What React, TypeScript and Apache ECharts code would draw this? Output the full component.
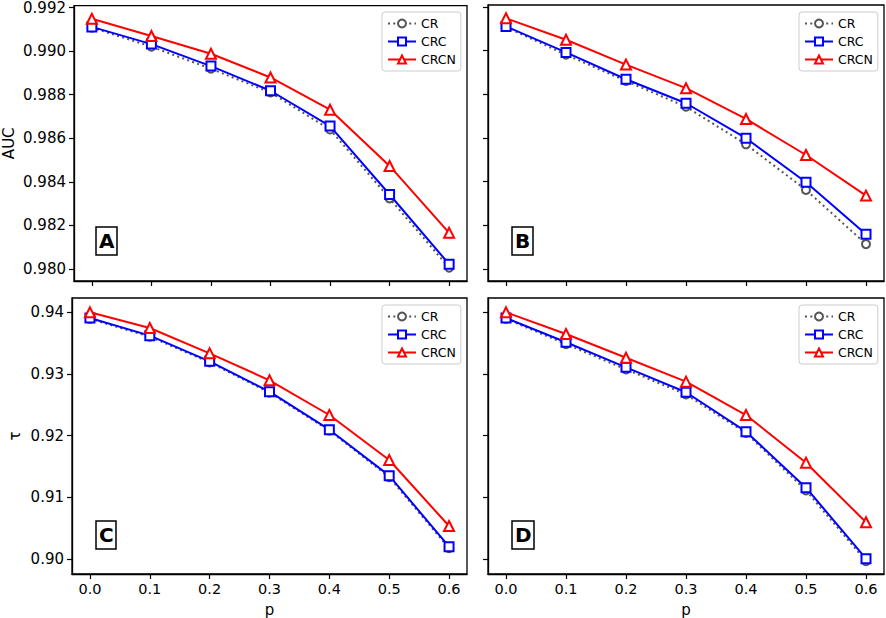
import React, { useEffect, useRef } from "react";
import * as echarts from "echarts";

const pValues = [0, 0.1, 0.2, 0.3, 0.4, 0.5, 0.6];
const aucTicks = [0.98, 0.982, 0.984, 0.986, 0.988, 0.99, 0.992];
const tauTicks = [0.9, 0.91, 0.92, 0.93, 0.94];
const seriesNames = ["CR", "CRC", "CRCN"];
const panelLetters = ["A", "B", "C", "D"];

const A_CR = [0.99108, 0.9902, 0.98919, 0.9881, 0.9864, 0.98324, 0.98006];
const A_CRC = [0.99111, 0.99032, 0.98931, 0.98818, 0.98656, 0.98342, 0.98022];
const A_CRCN = [0.99148, 0.99069, 0.98988, 0.98879, 0.98731, 0.98473, 0.98166];

const B_CR = [0.99108, 0.98981, 0.98861, 0.98743, 0.98571, 0.98362, 0.98114];
const B_CRC = [0.99111, 0.98992, 0.98869, 0.98759, 0.98599, 0.98397, 0.98159];
const B_CRCN = [0.99148, 0.9905, 0.98936, 0.98828, 0.98687, 0.98522, 0.98336];

const C_CR = [0.9389, 0.936, 0.93185, 0.92695, 0.9208, 0.91325, 0.90175];
const C_CRC = [0.93903, 0.93617, 0.93201, 0.9271, 0.92094, 0.9135, 0.902];
const C_CRCN = [0.93995, 0.93741, 0.93331, 0.92894, 0.92332, 0.91603, 0.90534];

const D_CR = [0.9389, 0.9348, 0.9307, 0.92665, 0.9204, 0.9111, 0.89965];
const D_CRC = [0.93903, 0.9351, 0.93104, 0.927, 0.92062, 0.91155, 0.90005];
const D_CRCN = [0.93995, 0.93644, 0.9326, 0.92872, 0.92332, 0.9156, 0.90594];

const panels = [
  [A_CR, A_CRC, A_CRCN],
  [B_CR, B_CRC, B_CRCN],
  [C_CR, C_CRC, C_CRCN],
  [D_CR, D_CRC, D_CRCN],
];

const FONT = "DejaVu Sans";

export default function App() {
  const ref = useRef<HTMLDivElement>(null);
  useEffect(() => {
    if (!ref.current) return;
    const chart = echarts.init(ref.current, null, { renderer: "svg" });

    const grids = [
      { left: 72, top: 5, width: 395, height: 276 },
      { left: 488, top: 5, width: 396, height: 276 },
      { left: 72, top: 298, width: 395, height: 276 },
      { left: 488, top: 298, width: 396, height: 276 },
    ].map((g) => ({ ...g, show: true, borderColor: "#000", borderWidth: 1.3, backgroundColor: "#fff" }));

    const xAxes = [0, 1, 2, 3].map((i) => ({
      type: "value",
      gridIndex: i,
      position: "bottom",
      min: -0.03,
      max: 0.63,
      splitLine: { show: false },
      axisLine: { show: true, onZero: false, lineStyle: { color: "#000", width: 1.3 } },
      axisTick: {
        show: true,
        inside: false,
        length: 5,
        customValues: pValues,
        lineStyle: { color: "#000", width: 1.2 },
      },
      axisLabel: {
        show: i >= 2,
        inside: false,
        customValues: pValues,
        formatter: (v: number) => v.toFixed(1),
        fontFamily: FONT,
        fontSize: 14.5,
        color: "#000",
        margin: 7,
      },
      name: i >= 2 ? "p" : "",
      nameLocation: "middle",
      nameGap: 28,
      nameTextStyle: { fontFamily: FONT, fontSize: 15, color: "#000" },
    }));

    const yAxes = [0, 1, 2, 3].map((i) => {
      const isAuc = i < 2;
      const ticks = isAuc ? aucTicks : tauTicks;
      return {
        type: "value",
        gridIndex: i,
        position: "left",
        min: isAuc ? 0.97945 : 0.89757,
        max: isAuc ? 0.99209 : 0.94227,
        splitLine: { show: false },
        axisLine: { show: true, onZero: false, lineStyle: { color: "#000", width: 1.3 } },
        axisTick: {
          show: true,
          inside: false,
          length: 5,
          customValues: ticks,
          lineStyle: { color: "#000", width: 1.2 },
        },
        axisLabel: {
          show: i % 2 === 0,
          inside: false,
          customValues: ticks,
          formatter: (v: number) => v.toFixed(isAuc ? 3 : 2),
          fontFamily: FONT,
          fontSize: 15,
          color: "#000",
          margin: 8,
        },
        name: i === 0 ? "AUC" : i === 2 ? "τ" : "",
        nameLocation: "middle",
        nameGap: i === 0 ? 58 : 50,
        nameTextStyle: { fontFamily: FONT, fontSize: 15, color: "#000" },
      };
    });

    const styles = [
      { color: "#555", symbol: "emptyCircle", lineType: [2, 3.3] as any, size: 8 },
      { color: "#0000ff", symbol: "emptyRect", lineType: "solid", size: 9 },
      { color: "#ff0000", symbol: "emptyTriangle", lineType: "solid", size: 10 },
    ];

    const series: any[] = [];
    panels.forEach((panel, pi) => {
      panel.forEach((vals, si) => {
        const st = styles[si];
        series.push({
          type: "line",
          name: seriesNames[si],
          xAxisIndex: pi,
          yAxisIndex: pi,
          data: pValues.map((p, k) => [p, vals[k]]),
          symbol: st.symbol,
          symbolSize: st.size,
          showAllSymbol: true,
          lineStyle: { color: st.color, width: 2, type: st.lineType },
          itemStyle: { color: st.color, borderWidth: 1.6 },
          z: 2 + si,
        });
      });
    });

    const legendPos = [
      { left: 382, top: 12 },
      { left: 799, top: 12 },
      { left: 382, top: 305 },
      { left: 799, top: 305 },
    ];
    const legends = legendPos.map((pos) => ({
      ...pos,
      orient: "vertical",
      data: seriesNames,
      backgroundColor: "#fff",
      borderColor: "#ccc",
      borderWidth: 1,
      borderRadius: 3,
      padding: [4, 5, 4, 5],
      itemGap: 3,
      itemWidth: 28,
      itemHeight: 10,
      textStyle: { fontFamily: FONT, fontSize: 12.5, color: "#000", lineHeight: 15 },
    }));

    const letterPos = [
      { left: 96, top: 227 },
      { left: 512, top: 227 },
      { left: 96, top: 521 },
      { left: 512, top: 521 },
    ];
    const titles = letterPos.map((pos, i) => ({
      ...pos,
      text: panelLetters[i],
      borderColor: "#000",
      borderWidth: 1.5,
      backgroundColor: "#fff",
      padding: [3, 3, 3, 3],
      textStyle: { fontFamily: FONT, fontSize: 20, fontWeight: "bold", color: "#000", lineHeight: 22 },
    }));

    chart.setOption({
      animation: false,
      backgroundColor: "#fff",
      title: titles,
      legend: legends,
      grid: grids,
      xAxis: xAxes,
      yAxis: yAxes,
      series,
    });
    return () => chart.dispose();
  }, []);
  return (
    <div
      ref={ref}
      style={{ position: "absolute", left: 0, top: 0, width: 886, height: 618 }}
    />
  );
}
